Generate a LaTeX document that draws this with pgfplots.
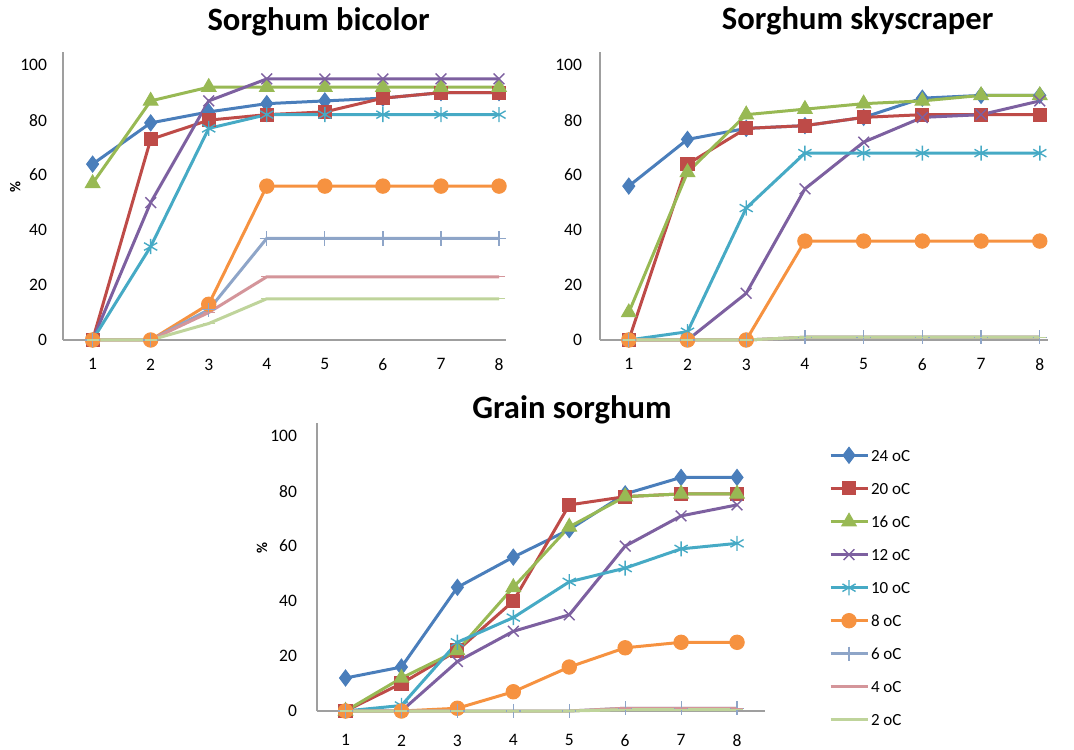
\documentclass[border=0pt]{standalone}
\usepackage{fontspec}
\setmainfont{Carlito}
\usepackage{pgfplots}
\pgfplotsset{compat=1.18}
\usepackage{pgfplotstable}

\definecolor{c24}{HTML}{4A7EBB}
\definecolor{c20}{HTML}{BE4B48}
\definecolor{c16}{HTML}{98B954}
\definecolor{c12}{HTML}{7D60A0}
\definecolor{c10}{HTML}{46AAC5}
\definecolor{c8}{HTML}{F69240}
\definecolor{c6}{HTML}{8EA5C8}
\definecolor{c4}{HTML}{D4959A}
\definecolor{c2}{HTML}{BFD49B}

% germination (%) per day, one column per temperature
\pgfplotstableread{
x t24 t20 t16 t12 t10 t8 t6 t4 t2
1 64  0 57  0  0  0  0  0  0
2 79 73 87 50 34  0  0  0  0
3 83 80 92 87 77 13 11 10  6
4 86 82 92 95 82 56 37 23 15
5 87 83 92 95 82 56 37 23 15
6 88 88 92 95 82 56 37 23 15
7 90 90 92 95 82 56 37 23 15
8 90 90 92 95 82 56 37 23 15
}\bicolor

\pgfplotstableread{
x t24 t20 t16 t12 t10 t8 t6 t4 t2
1 56  0 10  0  0  0  0  0  0
2 73 64 61  0  3  0  0  0  0
3 77 77 82 17 48  0  0  0  0
4 78 78 84 55 68 36  1  1  1
5 81 81 86 72 68 36  1  1  1
6 88 82 87 81 68 36  1  1  1
7 89 82 89 82 68 36  1  1  1
8 89 82 89 87 68 36  1  1  1
}\skyscraper

\pgfplotstableread{
x t24 t20 t16 t12 t10 t8 t6 t4 t2
1 12  0  0  0  0  0  0  0  0
2 16 10 12  0  2  0  0  0  0
3 45 22 22 18 25  1  0  0  0
4 56 40 45 29 34  7  0  0  0
5 66 75 67 35 47 16  0  0  0
6 79 78 78 60 52 23  1  1  0.5
7 85 79 79 71 59 25  1  1  0.5
8 85 79 79 75 61 25  1  1  0.5
}\grain

\newcommand{\tf}{\fontsize{8.75}{10}\selectfont}

\pgfplotsset{
  ser/.style={#1, line width=1.5pt},
  s24/.style={ser=c24, mark=diamond*, mark size=4pt, mark options={fill=c24, line width=0.5pt}},
  s20/.style={ser=c20, mark=square*, mark size=3.3pt, mark options={fill=c20, line width=0.5pt}},
  s16/.style={ser=c16, mark=triangle*, mark size=4.2pt, mark options={fill=c16, line width=0.5pt}},
  s12/.style={ser=c12, mark=x, mark size=3.8pt, mark options={line width=0.7pt}},
  s10/.style={ser=c10, mark=asterisk, mark size=3.8pt, mark options={line width=0.7pt}},
  s8/.style={ser=c8, mark=*, mark size=3.6pt, mark options={fill=c8, line width=0.5pt}},
  s6/.style={ser=c6, mark=+, mark size=3.6pt, mark options={line width=0.6pt}},
  s4/.style={ser=c4, mark=-, mark size=3pt, mark options={line width=0.6pt}},
  s2/.style={ser=c2, mark=-, mark size=3pt, mark options={line width=0.6pt}},
  excel/.style={
    scale only axis, height=144pt, anchor=south west,
    ymin=0, ymax=104.8, ytick={0,20,...,100}, xtick={1,...,8},
    axis x line=bottom, axis y line=left,
    axis line style={-, draw=gray!75, line width=0.7pt},
    major tick length=0pt, clip=false,
    tick label style={font=\tf},
    /pgf/number format/assume math mode=true,
    every axis title shift=0pt,
    title style={font=\bfseries\fontsize{16.3}{18}\selectfont, anchor=center, yshift=0pt},
    ylabel style={font=\bfseries\fontsize{7.5}{9}\selectfont, anchor=center, rotate=0},
  },
}

\newcommand{\allseries}[1]{
  \addplot[s24] table[x=x, y=t24]{#1};
  \addplot[s20] table[x=x, y=t20]{#1};
  \addplot[s16] table[x=x, y=t16]{#1};
  \addplot[s12] table[x=x, y=t12]{#1};
  \addplot[s10] table[x=x, y=t10]{#1};
  \addplot[s8] table[x=x, y=t8]{#1};
  \addplot[s6] table[x=x, y=t6]{#1};
  \addplot[s4] table[x=x, y=t4]{#1};
  \addplot[s2] table[x=x, y=t2]{#1};
}

\begin{document}
\begin{tikzpicture}
\useasboundingbox (0,0) rectangle (537pt,374.5pt);

\begin{axis}[excel, at={(31.5pt,204.5pt)}, width=221.5pt,
  xmin=0.49, xmax=8.12,
  title={Sorghum bicolor},
  title style={at={(axis description cs:0.577,1.105)}},
  ylabel={\%}, ylabel style={at={(axis description cs:-0.108,0.53)}},
  yticklabel style={xshift=-4.5pt}, xticklabel style={yshift=-5.8pt}]
  \allseries{\bicolor}
\end{axis}

\begin{axis}[excel, at={(300pt,204.5pt)}, width=224pt,
  xmin=0.51, xmax=8.14,
  title={Sorghum skyscraper},
  title style={at={(axis description cs:0.575,1.108)}},
  yticklabel style={xshift=-5.5pt}, xticklabel style={yshift=-5.8pt}]
  \allseries{\skyscraper}
\end{axis}

\begin{axis}[excel, at={(158.5pt,19pt)}, width=224pt,
  xmin=0.49, xmax=8.5,
  title={Grain sorghum},
  title style={at={(axis description cs:0.569,1.045)}},
  ylabel={\%}, ylabel style={at={(axis description cs:-0.123,0.566)}},
  yticklabel style={xshift=-6.5pt}, xticklabel style={yshift=-8.3pt},
  legend cell align=left,
  legend image code/.code={\draw[mark repeat=2, mark phase=2]
    plot coordinates {(0cm,0cm) (0.325cm,0cm) (0.65cm,0cm)};},
  legend style={at={(axis description cs:1.142,0.917)}, anchor=north west,
    draw=none, fill=none, font=\fontsize{8.5}{10}\selectfont,
    row sep=8.5pt, inner sep=0pt,
    nodes={inner sep=1pt, text height=6pt, text depth=0pt}},
  legend entries={24 oC, 20 oC, 16 oC, 12 oC, 10 oC, 8 oC, 6 oC, 4 oC, 2 oC}]
  \allseries{\grain}
\end{axis}
\end{tikzpicture}
\end{document}
